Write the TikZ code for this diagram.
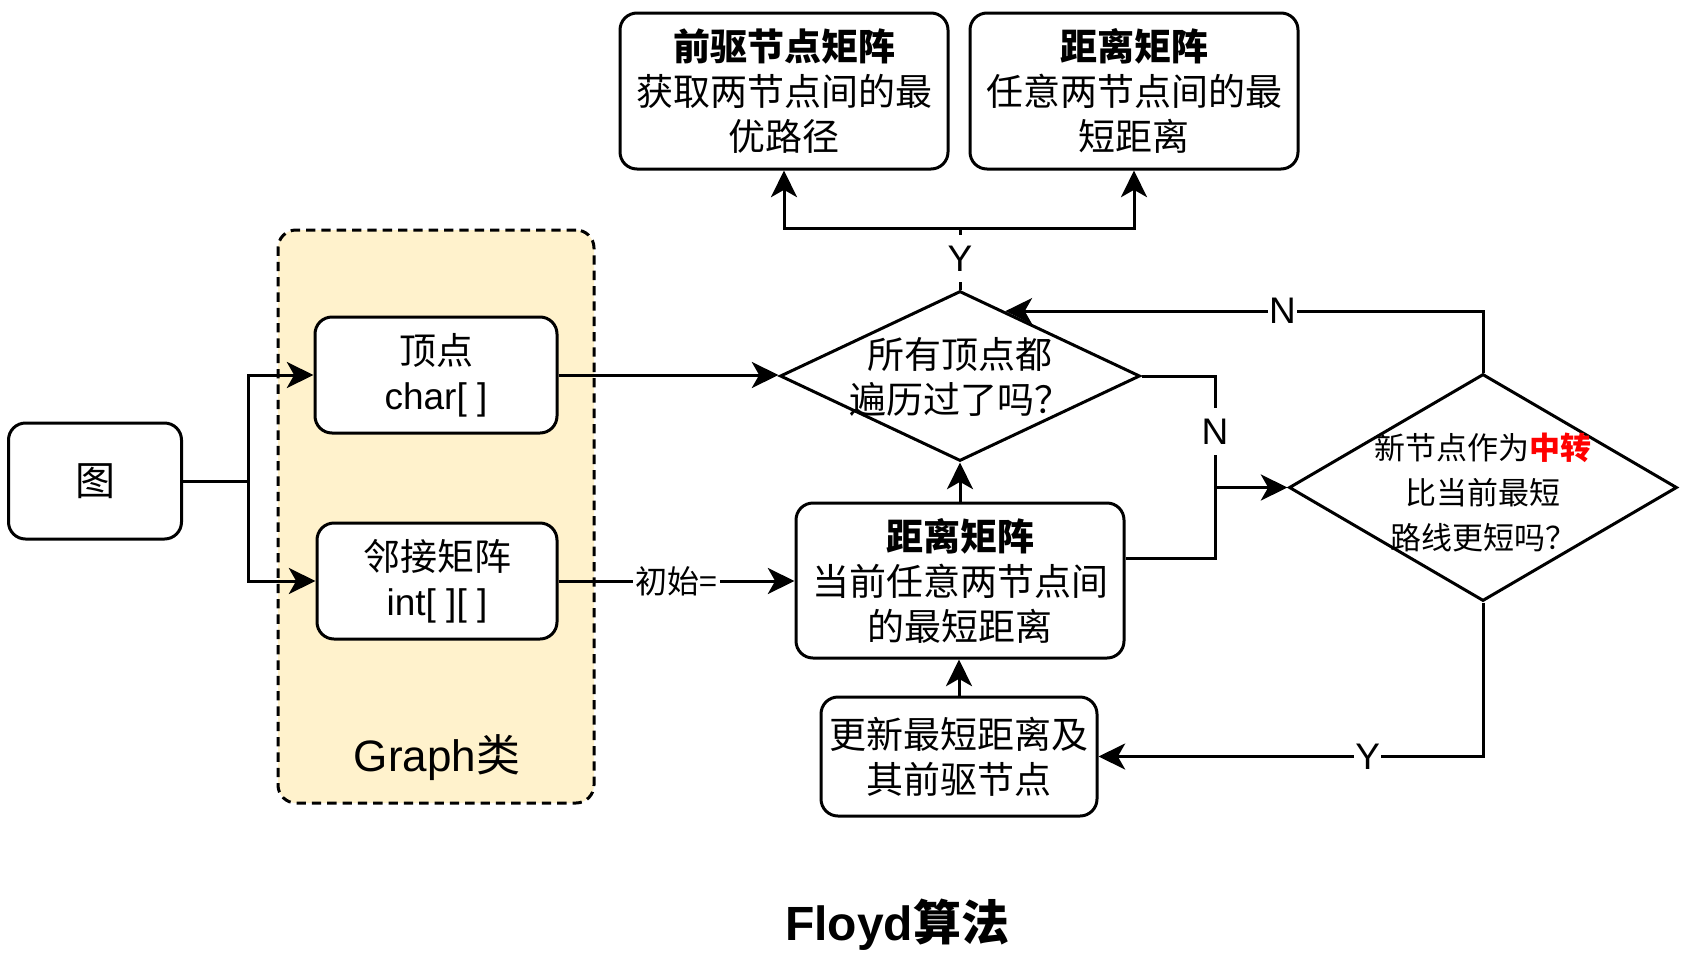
\documentclass[tikz,border=0pt]{standalone}
\usepackage{fontspec}
\setmainfont{Liberation Sans}
\newfontfamily\cjk{Noto Sans CJK SC}
\usetikzlibrary{shapes.geometric,arrows.meta,calc}
\definecolor{cfill}{HTML}{FFF2CC}
\definecolor{zred}{HTML}{FF0000}
\newcommand\fsz[2]{\fontsize{#1}{#2}\selectfont}
\begin{document}
\begin{tikzpicture}[x=0.75pt,y=-0.75pt,
  line width=2.25pt,
  arr/.style={-{Stealth[length=20pt,width=19.5pt,inset=5.5pt]}},
  box/.style={draw, rounded corners=12.75pt, fill=white, align=center, inner sep=0pt, font=\cjk\fsz{27.75}{33.75}},
  dia/.style={draw, diamond, fill=white, inner sep=0pt},
  dtext/.style={align=center, inner sep=0pt},
  lbl/.style={fill=white, inner xsep=1pt, inner ysep=0pt, minimum height=35pt, font=\fsz{27.75}{33.75}},
  lblc/.style={fill=white, inner xsep=2pt, inner ysep=0pt, minimum height=30pt, font=\cjk\fsz{24}{30}},
  container/.style={draw, dash pattern=on 7pt off 4.5pt, fill=cfill, rounded corners=13.5pt},
]
\useasboundingbox (0,0) rectangle (1695,964);

% Graph class container
\node[container, minimum width=237pt, minimum height=429.75pt] (gc) at (436,516.5) {};
\node[font=\fsz{33}{40}] (gct) at (437,758) {Graph{\cjk 类}};

% boxes
\node[box, minimum width=129.75pt, minimum height=87pt, font=\cjk\fsz{30}{36}] (g) at (95,481) {图};
\node[box, minimum width=181.5pt, minimum height=87pt] (v) at (436,375) {顶点\\{\rmfamily char[ ]}};
\node[box, minimum width=180pt, minimum height=87pt] (adj) at (437,581) {邻接矩阵\\{\rmfamily int[ ][ ]}};
\node[box, minimum width=246pt, minimum height=117pt] (pre) at (784,91) {{\bfseries 前驱节点矩阵}\\获取两节点间的最\\优路径};
\node[box, minimum width=246pt, minimum height=117pt] (dt) at (1134,91) {{\bfseries 距离矩阵}\\任意两节点间的最\\短距离};
\node[box, minimum width=246pt, minimum height=116.25pt] (mid) at (960,580.5) {{\bfseries 距离矩阵}\\当前任意两节点间\\的最短距离};
\node[box, minimum width=207pt, minimum height=89.25pt] (upd) at (959,756.5) {更新最短距离及\\其前驱节点};

% diamonds
\node[dia, minimum width=270pt, minimum height=127.5pt] (d1) at (960,376) {};
\node[dtext, font=\cjk\fsz{27.75}{33.75}] (d1t) at (960,377) {所有顶点都\\遍历过了吗？};
\node[dia, minimum width=291pt, minimum height=170.25pt] (d2) at (1483,487.5) {};
\node[dtext, font=\cjk\fsz{23.25}{33.75}] (d2t) at (1483,492) {新节点作为{\bfseries\color{zred}中转}\\比当前最短\\路线更短吗？};

% title
\node[font=\fsz{36}{43}\bfseries] (title) at (897,925) {Floyd{\cjk 算法}};

% connectors
\coordinate (sp) at (248,481);
\draw (g.east) -- (sp);
\draw[arr] (sp) |- (v.west);
\draw[arr] (sp) |- (adj.west);
\draw[arr] (v.east) -- (v.east -| d1.west);
\draw[arr] (adj.east) -- node[lblc]{初始=} (adj.east -| mid.west);

\coordinate (yt) at (960,228);
\draw (d1.north) -- node[lbl]{Y} (yt);
\draw[arr] (yt) -| (pre.south);
\draw[arr] (yt) -| (dt.south);

\draw[arr] (mid.north) -- (d1.south);
\draw[arr] (upd.north) -- (upd.north |- mid.south);

\coordinate (jn) at (1215,487.5);
\draw (d1.east) -| node[lbl,pos=0.75]{N} (jn);
\draw ([yshift=16.5pt]mid.east) -| (jn);
\draw[arr] (jn) -- (d2.west);

\coordinate (d1e) at ($(d1.north)!0.25!(d1.east)$);
\draw[arr] (d2.north) |- node[lbl,pos=0.71]{N} (d1e);
\draw[arr] (d2.south) |- node[lbl,pos=0.65]{Y} (upd.east);
\end{tikzpicture}
\end{document}
